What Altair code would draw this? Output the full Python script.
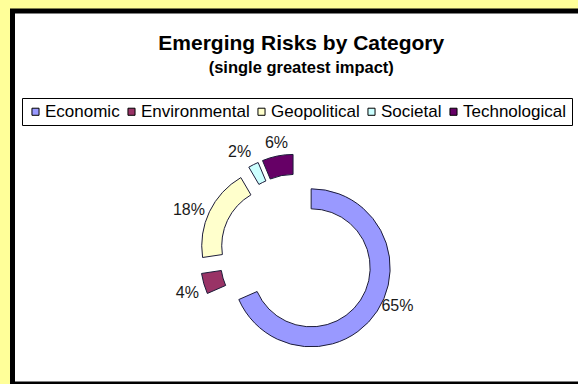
import altair as alt
import pandas as pd

# ---- data -------------------------------------------------------------
categories = ["Economic", "Environmental", "Geopolitical", "Societal", "Technological"]
values = [65, 4, 18, 2, 6]
pct_labels = ["65%", "4%", "18%", "2%", "6%"]
colors = ["#9999FF", "#993366", "#FFFFCC", "#CCFFFF", "#660066"]

df = pd.DataFrame({
    "category": categories,
    "value": values,
    "label": pct_labels,
    "order": list(range(len(categories))),
})

# ---- layout constants ---------------------------------------------------
PAD_L, PAD_T = 12.5, 11
W, H = 578 - PAD_L, 384 - PAD_T
CX, CY = 284, 244.5          # donut centre (view coords)
R_OUT, R_IN = 79, 59
EX, EY = 17.5, 22.5          # explosion distance
LABEL_R = 84
FONT = "Liberation Sans"
TWO_PI = 6.283185307179586

base = (
    alt.Chart(df)
    .transform_window(cum="sum(value)", sort=[alt.SortField("order")], frame=[None, 0])
    .transform_joinaggregate(total="sum(value)")
    .transform_calculate(f0="(datum.cum - datum.value) / datum.total")
    .transform_calculate(f1="datum.cum / datum.total")
    .transform_calculate(fm="(datum.cum - datum.value / 2) / datum.total")
    .transform_calculate(s="sin(2 * PI * datum.fm)")
    .transform_calculate(c="cos(2 * PI * datum.fm)")
    .transform_calculate(ox=f"{EX} * datum.s")
    .transform_calculate(oy=f"-{EY} * datum.c")
    .transform_calculate(ha="datum.s > 0.3 ? 'left' : (datum.s < -0.3 ? 'right' : 'center')")
    .transform_calculate(vb="datum.c > 0.7 ? 'bottom' : (datum.s > 0 ? 'bottom' : (datum.c < 0 ? 'top' : 'middle'))")
)

xs = alt.X("ox:Q", scale=alt.Scale(domain=[-100, 100], range=[CX - 100, CX + 100]), axis=None)
ys = alt.Y("oy:Q", scale=alt.Scale(domain=[-100, 100], range=[CY - 100, CY + 100]), axis=None)
theta_scale = alt.Scale(domain=[0, 1], range=[0, TWO_PI])

arcs = base.mark_arc(
    innerRadius=R_IN, outerRadius=R_OUT, stroke="#1c1c3a", strokeWidth=1
).encode(
    x=xs,
    y=ys,
    theta=alt.Theta("f0:Q", scale=theta_scale, stack=False),
    theta2="f1:Q",
    color=alt.Color(
        "category:N",
        scale=alt.Scale(domain=categories, range=colors),
        legend=alt.Legend(
            orient="none", legendX=9.5, legendY=87, direction="horizontal",
            title=None, symbolType="square", symbolSize=50,
            symbolStrokeColor="black", symbolStrokeWidth=1,
            labelFont=FONT, labelFontSize=17, labelColor="black",
            labelOffset=1, columnPadding=3, padding=5,
            strokeColor="black", fillColor="white",
        ),
    ),
    order=alt.Order("order:Q"),
)

texts = base.mark_text(
    radius=LABEL_R, align=alt.expr("datum.ha"), baseline=alt.expr("datum.vb"),
    font=FONT, fontSize=16, color="#1a1a1a",
).encode(
    x=xs,
    y=ys,
    theta=alt.Theta("fm:Q", scale=theta_scale, stack=False),
    text="label:N",
)

frame = alt.Chart(alt.Data(values=[{"frame": 1}])).mark_rect(
    fill="transparent", stroke="black", strokeWidth=5
).encode(
    x=alt.value(0), x2=alt.value(W + 20), y=alt.value(0), y2=alt.value(H)
)

chart = alt.layer(frame, arcs, texts).properties(
    width=W,
    height=H,
    padding={"left": PAD_L, "top": PAD_T, "right": 0, "bottom": 0},
    autosize=alt.AutoSizeParams(type="none"),
    background="#FFFF99",
    title=alt.TitleParams(
        text="Emerging Risks by Category",
        subtitle="(single greatest impact)",
        font=FONT, fontSize=21, fontWeight="bold", color="black",
        subtitleFont=FONT, subtitleFontSize=16.5, subtitleFontWeight="bold",
        subtitleColor="black", subtitlePadding=6,
        anchor="middle", frame="group", orient="top", offset=-68, dx=6,
    ),
).configure_view(fill="white", strokeWidth=0)

chart.save("out.html", embed_options={"renderer": "svg", "actions": False})
